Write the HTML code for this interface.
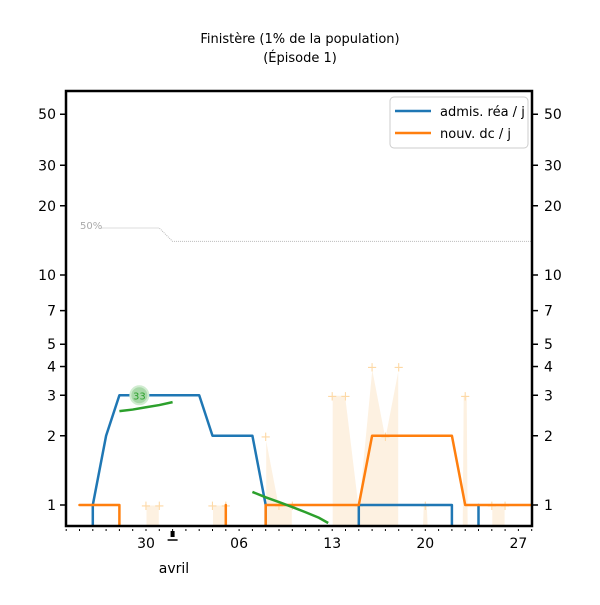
<!DOCTYPE html>
<html><head><meta charset="utf-8"><style>
body{margin:0;background:#fff}
svg text{font-family:"DejaVu Sans","Liberation Sans",sans-serif}
</style></head><body>
<svg id="c" width="600" height="600" viewBox="0 0 600 600">
<text x="300" y="43" text-anchor="middle" font-size="13">Finistère (1% de la population)</text>
<text x="300" y="62" text-anchor="middle" font-size="13">(Épisode 1)</text>
<defs><clipPath id="clip"><rect x="66" y="91" width="466" height="435"/></clipPath></defs>
<g id="raw" clip-path="url(#clip)"></g>
<g id="thr"></g>
<g id="lines" clip-path="url(#clip)"></g>
<rect x="66" y="91" width="466" height="435" fill="none" stroke="#000" stroke-width="2.5"/>
<g id="axes"></g>
<g>
<rect x="390" y="97" width="138" height="51" rx="4" fill="#fff" stroke="#ccc"/>
<line x1="395" y1="111" x2="431" y2="111" stroke="#1f77b4" stroke-width="2.5"/>
<text x="440" y="116" font-size="13">admis. réa / j</text>
<line x1="395" y1="133" x2="431" y2="133" stroke="#ff7f0e" stroke-width="2.5"/>
<text x="440" y="138" font-size="13">nouv. dc / j</text>
</g>
</svg>
<script>
const days=[-5,-4,-3,-2,-1,0,1,2,3,4,5,6,7,8,9,10,11,12,13,14,15,16,17,18,19,20,21,22,23,24,25,26,27,28,29];
const rea=[0,1,2,3,3,3,3,3,3,3,2,2,2,2,1,0,0,0,0,0,0,1,1,1,1,1,1,1,1,0,1,null,null,null,null];
const dc=[1,1,1,1,0,0,0,0,0,0,0,1,0,0,1,1,1,1,1,1,1,1,2,2,2,2,2,2,2,1,1,1,1,1,1];
const raw=[0,0,0,0,0,1,1,0,0,0,1,1,0,0,2,1,1,0,0,3,3,1,4,2,4,0,1,0,0,3,0,1,1,0,0];
const thr=[16,16,16,16,16,16,16,14,14,14,14,14,14,14,14,14,14,14,14,14,14,14,14,14,14,14,14,14,14,14,14,14,14,14,14];
const trend1Days=[-2,-1,0,1,2];
const trend1=[2.56,2.6,2.66,2.72,2.8];
const trend2Days=[8,9,10,11,12,13,13.7];
const trend2=[1.14,1.08,1.03,0.98,0.93,0.88,0.835];
const yTicks=[1,2,3,4,5,7,10,20,30,50];
const xTickDays=[0,7,14,21,28];
const xTickLabels=["30","06","13","20","27"];
const NS="http://www.w3.org/2000/svg";
const X=d=>146+13.3*d;
const Y=v=>505-230*Math.log10(v);
const BOT=526;
function mk(tag,attrs,parent){const e=document.createElementNS(NS,tag);for(const k in attrs)e.setAttribute(k,attrs[k]);parent.appendChild(e);return e;}
const gRaw=document.getElementById('raw'),gL=document.getElementById('lines'),gA=document.getElementById('axes'),gT=document.getElementById('thr');
// raw area runs
let run=[];
function flush(){if(!run.length)return;let pts=[[X(run[0][0]),BOT+5]];run.forEach(p=>pts.push([X(p[0]),Y(p[1])]));pts.push([X(run[run.length-1][0]),BOT+5]);
 if(run.length==1){pts=[[X(run[0][0])-3,BOT+5],[X(run[0][0])-2,Y(run[0][1])],[X(run[0][0])+2,Y(run[0][1])],[X(run[0][0])+3,BOT+5]];}
 const p=mk('polygon',{points:pts.map(q=>q.join(',')).join(' '),fill:'#fdf1e1',stroke:'#fff','stroke-width':1},gRaw);
 
 
 run=[];}
days.forEach((d,i)=>{if(raw[i]>0)run.push([d,raw[i]]);else flush();});flush();
days.forEach((d,i)=>{if(raw[i]>0){const t=mk('text',{x:X(d),y:Y(raw[i])+5,'text-anchor':'middle','font-size':13,fill:'#fdd9a6'},gRaw);t.textContent='+';
 
 }});
// threshold
const tp=mk('polyline',{points:days.map((d,i)=>X(Math.max(d,-6))+','+Y(thr[i])).join(' ')+' 532,'+Y(thr[thr.length-1]),fill:'none',stroke:'#bbb','stroke-width':1,'stroke-dasharray':'1,1'},gT);


const tl=mk('rect',{x:77,y:219,width:24,height:12,fill:'#fff'},gT);
const tt=mk('text',{x:80,y:229,'font-size':10,fill:'#aaa'},gT);tt.textContent='50%';


function series(vals,color,name){let pts=[];const segs=[];
 days.forEach((d,i)=>{const v=vals[i];
  if(v===null){if(pts.length)segs.push(pts);pts=[];return;}
  if(v>0){if(!pts.length&&i>0&&vals[i-1]===0)pts.push([X(d),BOT+5]);pts.push([X(d),Y(v)]);}
  else{if(pts.length){pts.push([pts[pts.length-1][0],BOT+5]);segs.push(pts);}pts=[];}});
 if(pts.length)segs.push(pts);
 segs.forEach(s=>{const p=mk('polyline',{points:s.map(q=>q.join(',')).join(' '),fill:'none',stroke:color,'stroke-width':2.5,'stroke-linejoin':'round','stroke-linecap':'round'},gL);
  
  });}
series(rea,'#1f77b4','rea-line');
series(dc,'#ff7f0e','dc-line');
[[trend1Days,trend1],[trend2Days,trend2]].forEach(([ds,vs])=>{const p=mk('polyline',{points:ds.map((d,i)=>X(d)+','+Y(vs[i])).join(' '),fill:'none',stroke:'#2ca02c','stroke-width':2.5},gL);
 
 });
const pc=mk('circle',{cx:X(-0.5),cy:Y(3),r:9,fill:'#a8d8a8',stroke:'#d0ecd0','stroke-width':2},gL);


const pt=mk('text',{x:X(-0.5),y:Y(3)+4,'text-anchor':'middle','font-size':10,fill:'#2ca02c'},gL);pt.textContent='33';


// y ticks
yTicks.forEach(v=>{const y=Y(v);
 mk('line',{x1:60,y1:y,x2:66,y2:y,stroke:'#000','stroke-width':1.5},gA);
 mk('line',{x1:532,y1:y,x2:538,y2:y,stroke:'#000','stroke-width':1.5},gA);
 const l=mk('text',{x:56,y:y+5,'text-anchor':'end','font-size':14},gA);l.textContent=v;
 
 
 const r=mk('text',{x:544,y:y+5,'font-size':14},gA);r.textContent=v;
 
 });
for(let d=-6;d<=29;d++){mk('line',{x1:X(d),y1:529,x2:X(d),y2:531,stroke:'#000','stroke-width':1},gA);}
xTickDays.forEach((d,i)=>{const t=mk('text',{x:X(d),y:548,'text-anchor':'middle','font-size':14},gA);t.textContent=xTickLabels[i];
 
 });
mk('rect',{x:X(2)-2,y:531,width:4,height:6,fill:'#000'},gA);
mk('line',{x1:X(2)-5,y1:540,x2:X(2)+5,y2:540,stroke:'#000','stroke-width':1.5},gA);
const av=mk('text',{x:174,y:573,'text-anchor':'middle','font-size':14},gA);av.textContent='avril';


</script>
</body></html>
